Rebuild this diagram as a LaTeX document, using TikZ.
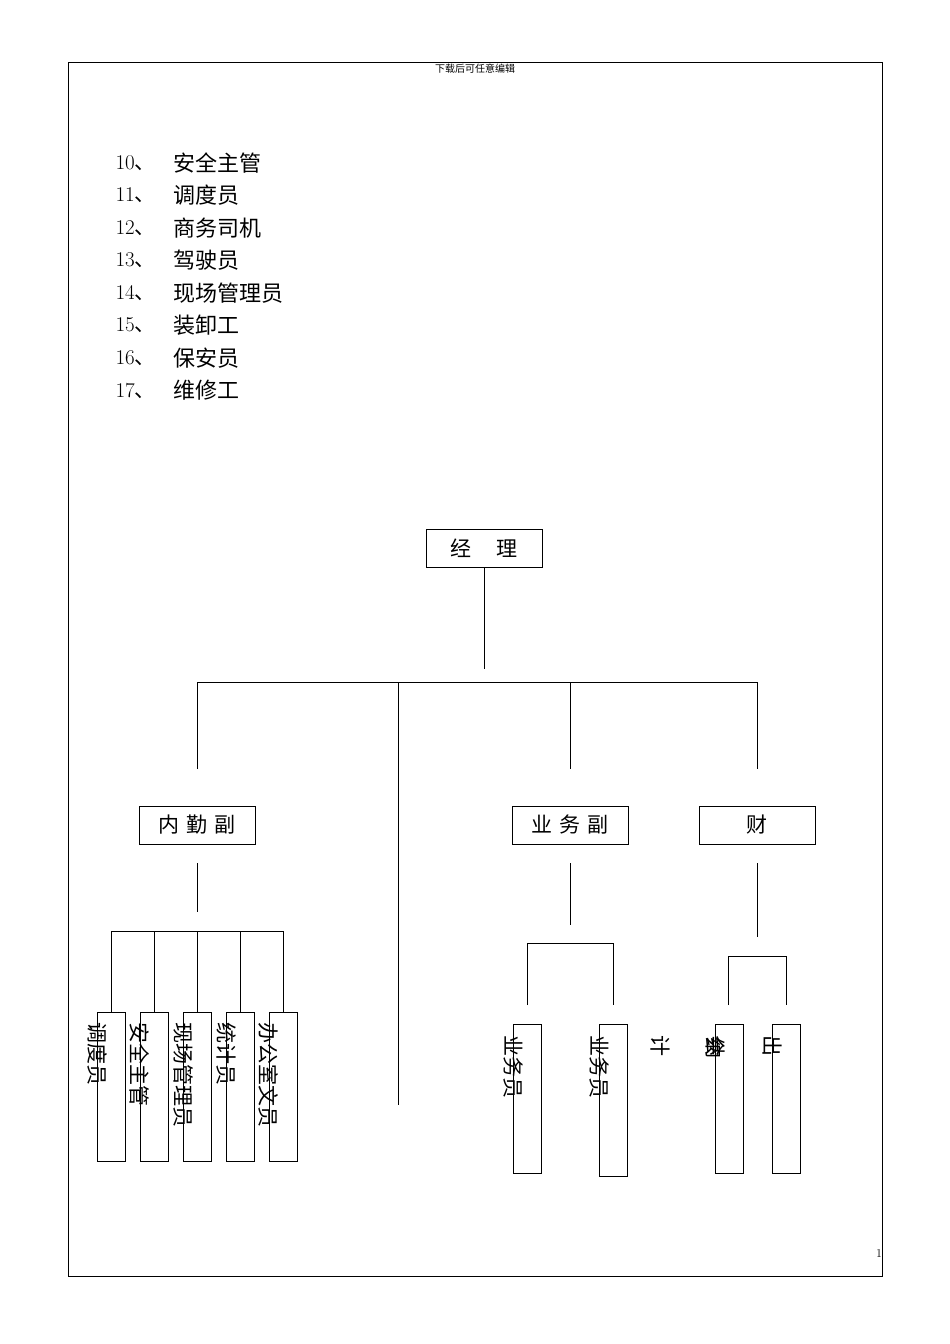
\documentclass[tikz,border=0pt]{standalone}
\usepackage{fontspec}
\newfontfamily\cjk{Noto Sans CJK SC}
\begin{document}
\begin{tikzpicture}[x=1pt,y=-1pt,line width=1pt,
  bx/.style={draw,minimum width=116pt,minimum height=38pt,inner sep=0pt,font=\cjk\fontsize{21}{21}\selectfont},
  vb/.style={draw,minimum width=28pt,inner sep=0pt,anchor=north west},
  vt/.style={rotate=-90,anchor=west,inner sep=0pt,font=\cjk\fontsize{21}{21}\selectfont},
  li/.style={anchor=west,inner sep=0pt,font=\cjk\fontsize{22}{22}\selectfont}]
\useasboundingbox (0,0) rectangle (950,1344);
\draw[line width=0.6pt] (68,62) rectangle (882,1276);
\node[font=\cjk\fontsize{10}{10}\selectfont] (hd) at (475,69) {下载后可任意编辑};
\node[font=\fontsize{12}{12}\selectfont] (pg) at (879,1253) {1};
\foreach \n/\t [count=\i from 0] in {10/安全主管,11/调度员,12/商务司机,13/驾驶员,14/现场管理员,15/装卸工,16/保安员,17/维修工}{
  \node[li,font=\fontsize{21}{21}\selectfont] (n\i) at (115,163+32.5*\i) {\n{\cjk 、}};
  \node[li] (t\i) at (173,163+32.5*\i) {\t};
}
\node[bx] (jl) at (484,548) {经\quad\ 理};
\node[bx] (nq) at (197,825) {内\,\,勤\,\,副};
\node[bx] (yw) at (570,825) {业\,\,务\,\,副};
\node[bx] (cw) at (757,825) {财};
\coordinate (a) at (484,669);
\draw (jl.south) -- (a);
\draw (197,769) -- (197,682) -- (757,682) -- (757,769);
\draw (398,682) -- (398,1105);
\draw (570,682) -- (570,769);
% neiqin
\draw (197,863) -- (197,912);
\draw (111,1012) -- (111,931) -- (283,931) -- (283,1012);
\foreach \x in {154,197,240} \draw (\x,931) -- (\x,1012);
\foreach \x/\t [count=\i] in {97/调度员,140/安全主管,183/现场管理员,226/统计员,269/办公室文员}{
  \node[vb,minimum height=149pt] (b\i) at (\x,1012) {};
  \node[vt] (v\i) at (\x,1022) {\t};
}
% yewu
\draw (570,863) -- (570,925);
\draw (527,1005) -- (527,943) -- (613,943) -- (613,1005);
\node[vb,minimum height=149pt] (y1) at (513,1024) {};
\node[vb,minimum height=152pt] (y2) at (599,1024) {};
\node[vt] (yt1) at (513,1035) {业务员};
\node[vt] (yt2) at (599,1035) {业务员};
% caiwu
\draw (757,863) -- (757,937);
\draw (728,1005) -- (728,956) -- (786,956) -- (786,1005);
\node[vb,minimum height=149pt] (c1) at (715,1024) {};
\node[vb,minimum height=149pt] (c2) at (772,1024) {};
\node[vt] (ct0) at (660,1035) {计};
\node[vt] (ct1) at (715,1035) {会};
\node[vt] (ct1b) at (715,1037) {纳};
\node[vt] (ct2) at (772,1035) {出};
\end{tikzpicture}
\end{document}
